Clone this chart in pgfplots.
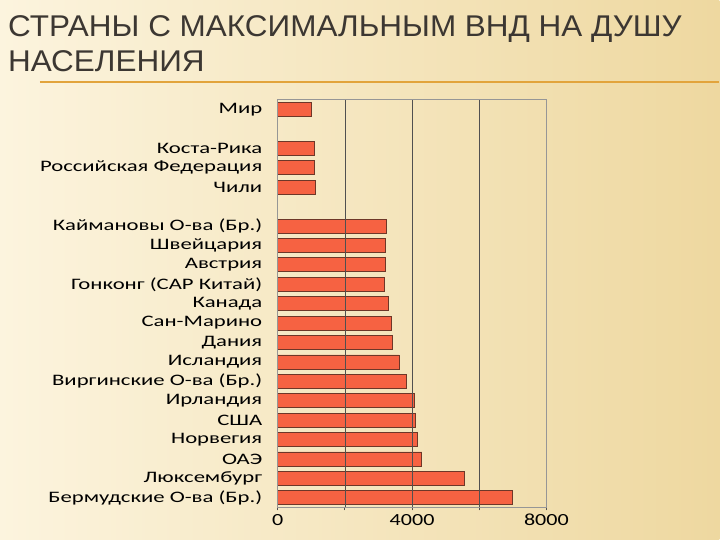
\documentclass[border=0pt]{standalone}
\usepackage{fontspec}
\setmainfont{Carlito}
\newfontfamily\labfont[FakeStretch=1.42]{Carlito}
\newfontfamily\numfont[FakeStretch=1.3]{Carlito}
\newfontfamily\titlefont[FakeStretch=1.05]{Liberation Sans}
\usepackage{pgfplots}
\pgfplotsset{compat=1.18}
\definecolor{barfill}{RGB}{246,98,66}
\definecolor{baredge}{RGB}{110,55,40}
\definecolor{bgl}{RGB}{252,244,222}
\definecolor{bgr}{RGB}{238,216,160}
\definecolor{titlec}{RGB}{60,55,50}
\definecolor{rulec}{RGB}{226,164,60}
\definecolor{gridc}{RGB}{80,80,80}
\definecolor{framec}{RGB}{150,150,150}
\begin{document}
\begin{tikzpicture}
\shade[left color=bgl, right color=bgr] (0bp,0bp) rectangle (720bp,-540bp);
\node[anchor=base west, inner sep=0pt, text=titlec, font=\titlefont\fontsize{30bp}{32bp}\selectfont] at (8bp,-37bp) {СТРАНЫ С МАКСИМАЛЬНЫМ ВНД НА ДУШУ};
\node[anchor=base west, inner sep=0pt, text=titlec, font=\titlefont\fontsize{30bp}{32bp}\selectfont] at (8bp,-72bp) {НАСЕЛЕНИЯ};
\draw[rulec, line width=1.5bp] (40bp,-82bp) -- (720bp,-82bp);
\begin{axis}[
  at={(278bp,-508bp)}, anchor=south west,
  scale only axis, width=269bp, height=408bp,
  xbar, bar width=0.72,
  xmin=0, xmax=8000, ymin=-0.5, ymax=20.5,
  xtick={0,2000,4000,6000,8000},
  xticklabels={0,,4000,,8000},
  scaled x ticks=false,
  xmajorgrids, grid style={gridc, line width=0.6bp},
  axis on top,
  axis line style={framec, line width=0.8bp},
  ytick={0,...,14,16,17,18,20},
  yticklabels={Бермудские О-ва (Бр.),Люксембург,ОАЭ,Норвегия,США,Ирландия,Виргинские О-ва (Бр.),Исландия,Дания,Сан-Марино,Канада,Гонконг (САР Китай),Австрия,Швейцария,Каймановы О-ва (Бр.),Чили,Российская Федерация,Коста-Рика,Мир},
  y tick style={draw=none},
  x tick style={gridc, line width=0.8bp},
  major tick length=3bp,
  tick align=outside,
  xtick pos=bottom,
  extra y ticks={-0.5,0.5,...,20.5},
  extra y tick labels={},
  extra y tick style={tick style={draw=gridc, line width=0.8bp}, major tick length=3bp, tick align=outside, ytick pos=left},
  yticklabel style={font=\labfont\fontsize{16bp}{16bp}\selectfont, text=black, xshift=-9bp},
  xticklabel style={font=\numfont\fontsize{17bp}{17bp}\selectfont, text=black},
  /pgf/number format/assume math mode=true,
]
\addplot[fill=barfill, draw=baredge, line width=0.8bp] coordinates {
(7000,0) (5570,1) (4290,2) (4150,3) (4110,4) (4060,5) (3845,6) (3614,7) (3400,8) (3394,9) (3305,10) (3190,11) (3197,12) (3197,13) (3227,14) (1110,16) (1095,17) (1093,18) (995,20)
};
\end{axis}
\end{tikzpicture}
\end{document}
